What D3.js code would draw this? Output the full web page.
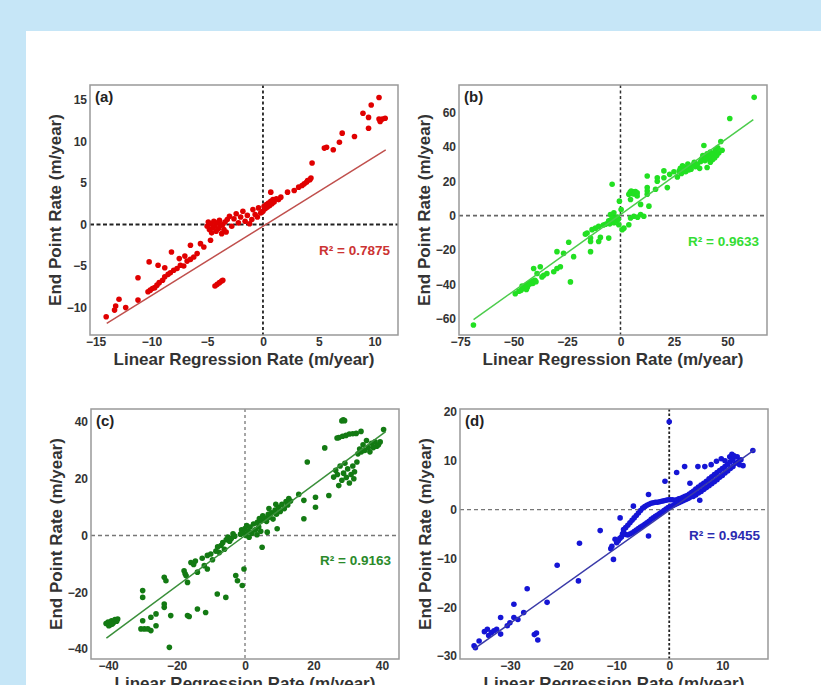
<!DOCTYPE html>
<html>
<head>
<meta charset="utf-8">
<script src="https://cdn.jsdelivr.net/npm/d3@7"></script>
<style>
  html, body { margin: 0; padding: 0; background: #c6e6f7; }
  #chart { width: 821px; height: 685px; }
</style>
</head>
<body>
<div id="chart"></div>
<script>
(function (d3) {
	'use strict';

	// DATA
	const labels = ["(a)", "(b)", "(c)", "(d)"];
	const r2Labels = ["R² = 0.7875", "R² = 0.9633", "R² = 0.9163", "R² = 0.9455"];

	const xTicksA = [-15, -10, -5, 0, 5, 10];
	const yTicksA = [-10, -5, 0, 5, 10, 15];
	const xTicksB = [-75, -50, -25, 0, 25, 50];
	const yTicksB = [-60, -40, -20, 0, 20, 40, 60];
	const xTicksC = [-40, -20, 0, 20, 40];
	const yTicksC = [-40, -20, 0, 20, 40];
	const xTicksD = [-30, -20, -10, 0, 10];
	const yTicksD = [-30, -20, -10, 0, 10, 20];

	// fitted line: [slope, intercept], drawn over [xStart, xEnd]
	const fitA = [0.836, -0.2], fitRangeA = [-14.0, 11.0];
	const fitB = [0.8907, 0.59], fitRangeB = [-68.7, 62.1];
	const fitC = [0.892, 0.0], fitRangeC = [-40.5, 41.1];
	const fitD = [0.773, -0.15], fitRangeD = [-36.8, 16.1];

	const pointsA = [
		[-14.05,-11.1],[-13.3,-10.3],[-13.2,-9.8],[-12.9,-9.0],[-12.3,-10.0],[-11.2,-9.1],[-11.2,-6.4],[-10.3,-8.1],[-10.1,-7.9],[-10.2,-4.5],
		[-9.9,-7.7],[-9.7,-7.6],[-9.5,-7.3],[-9.3,-7.0],[-9.0,-6.7],[-8.8,-6.3],[-8.5,-6.0],[-8.3,-5.8],[-8.0,-5.5],[-7.7,-5.3],[-7.4,-4.9],
		[-7.1,-5.0],[-6.8,-4.4],[-6.5,-4.2],[-6.2,-3.9],[-5.9,-3.5],[-9.4,-4.9],[-8.8,-5.2],[-8.2,-3.3],[-7.5,-4.1],[-7.0,-3.8],[-6.5,-2.5],
		[-5.6,-2.3],[-5.3,-2.7],[-4.7,-1.9],
		[-4.3,-7.4],[-4.1,-7.2],[-3.9,-7.0],[-3.7,-6.8],[-3.6,-6.7],
		[-5.0,-0.2],[-4.9,0.3],[-4.8,-0.6],[-4.7,0.1],[-4.6,-1.0],[-4.5,-0.4],[-4.4,0.4],[-4.3,-0.2],[-4.2,-0.8],[-4.1,0.2],[-4.0,-0.5],
		[-3.9,0.5],[-3.8,-0.1],[-3.7,-1.1],[-3.6,0.0],[-3.5,-0.6],[-3.4,0.3],[-3.3,-0.9],[-3.2,0.6],
		[-3.0,1.0],[-2.8,-0.2],[-2.6,0.7],[-2.4,1.3],[-2.2,0.2],[-2.0,0.9],[-1.8,1.6],[-1.6,0.4],[-1.4,1.1],[-1.2,0.1],[-1.0,0.6],[-0.9,1.8],
		[-0.7,1.2],[-0.5,0.9],[-0.4,2.0],[-0.2,1.4],
		[0.0,1.6],[0.1,2.2],[0.2,1.9],[0.3,2.4],[0.4,2.1],[0.5,2.6],[0.6,2.3],[0.7,2.8],[0.8,2.5],[0.9,3.0],[1.0,2.7],[1.2,3.1],[1.4,3.0],
		[1.6,3.3],[0.7,3.9],
		[2.2,3.9],[2.8,4.1],[3.2,4.5],[3.5,4.7],[3.7,4.9],[3.9,5.1],[4.0,5.3],[4.2,5.4],[4.3,5.6],[4.4,7.4],
		[5.5,9.2],[5.7,9.3],[6.3,9.0],[6.85,9.9],[7.1,11.0],[8.2,10.6],[8.96,13.4],[9.46,12.9],[9.46,11.6],[9.7,14.4],[10.4,15.3],
		[10.4,12.7],[10.5,12.4],[10.7,12.7],[10.95,12.8]
	];

	const pointsB = [
		[-68.75,-63.7],[-49.2,-45.5],[-47.5,-44.0],[-46.5,-43.5],[-45.8,-42.5],[-45.0,-42.0],[-44.5,-41.0],[-44.0,-40.5],[-43.5,-41.5],
		[-43.0,-39.5],[-42.5,-40.0],[-42.0,-39.0],[-41.5,-38.5],[-41.0,-39.5],[-40.5,-38.0],[-40.0,-37.6],[-39.5,-38.5],[-44.0,-43.0],[-46.0,-41.0],
		[-39,-33.7],[-37.5,-29.8],[-40.6,-30.8],[-36.7,-35.7],[-35.9,-34.7],[-34.4,-33.7],[-31.2,-32.7],[-29.7,-30.8],[-28.1,-29.8],
		[-29.7,-21],[-26.6,-22],[-23.4,-38.6],[-21.9,-23.9],[-24.2,-15.5],
		[-16.4,-10.8],[-15.6,-10.2],[-14,-13.1],[-14,-15.1],[-14,-21],[-13.3,-8.2],[-11.7,-7.3],[-10.2,-6.3],[-10.2,-15.1],[-9.4,-12.7],[-5.5,-13.1],
		[-8.0,-5.5],[-7.0,-5.0],[-6.0,-4.5],[-5.5,-3.0],[-5.0,-4.8],[-4.7,0.6],[-4.5,-2.5],[-4.0,-3.8],[-3.5,-1.5],[-3.1,1.6],[-3.0,-4.2],
		[-2.5,-2.0],[-2.0,-3.0],[-1.5,-0.8],[-1.0,-2.2],[-0.8,-5.3],[-3.9,18.2],
		[-0.5,8.4],[0.3,3.5],[0.8,-8.2],[1.6,-7.3],[3.9,-5.3],[4.7,-1.4],[6.25,-0.4],[9.4,0.6],[10.9,-0.4],[8.0,-1.0],
		[3.9,12.4],[4.5,13.5],[5.0,14.3],[5.5,12.8],[6.0,13.8],[6.5,12.6],[7.0,14.0],[7.8,13.2],[4.7,9.4],[7.8,11.4],[9.4,6.5],[13.3,5.5],
		[12.5,12.4],[12.5,14.3],[12.5,16.3],[16.4,15.3],[12.5,23],[17.2,20],[17.2,22],[20.3,22],[21.9,16.3],[20.3,26],
		[23.0,24.0],[25.0,25.5],[26.6,22.5],[27.5,26.0],[28.0,27.5],[28.5,24.5],[29.0,29.0],[29.5,26.5],[30.0,28.0],[30.5,25.5],[31.0,27.0],
		[31.5,30.0],[32.0,26.5],[32.5,28.5],[33.0,27.0],[34.0,29.5],[34.5,31.0],[35.0,28.5],[36.0,30.0],[37.0,27.5],[37.5,31.5],
		[38.0,33.0],[38.5,35.0],[39.0,40.8],[39.5,32.0],[40.0,34.0],[40.5,28.0],[40.5,36.0],[41.0,33.0],[41.5,35.5],[42.0,31.0],[42.0,37.0],
		[42.5,34.0],[43.0,32.5],[43.5,36.0],[44.0,33.5],[44.5,38.0],[45.0,35.0],[45.5,39.5],[46.0,36.5],[46.9,43.1],[47.5,38.0],
		[51.1,56.5],[62.5,68.8]
	];

	const pointsC = [
		[-40.6,-31.0],[-40.0,-30.5],[-39.5,-31.5],[-39.0,-30.0],[-38.5,-30.8],[-38.0,-29.6],[-37.5,-30.2],[-37.2,-29.4],[-39.8,-31.8],[-38.8,-31.2],
		[-30.4,-32.9],[-29.9,-30.0],[-29.4,-32.9],[-28.4,-32.9],[-27.5,-33.5],[-29.9,-19.4],[-29.9,-21.8],[-27.5,-28.8],[-26.0,-27.6],
		[-26.0,-31.8],[-23.6,-24.1],[-23.6,-25.3],[-23.6,-14.7],[-23.1,-15.9],[-22.1,-39.4],[-21.7,-28.2],
		[-17.8,-12.4],[-17.5,-13.5],[-17.2,-14.2],[-16.8,-16.5],[-16.8,-28.2],[-16.3,-28.5],[-15.8,-9.5],[-15.0,-10.2],[-14.5,-9.0],
		[-13.9,-12.9],[-13.9,-25.9],[-11.9,-10.6],[-11.5,-27.1],[-11.0,-11.8],[-12.5,-8.0],[-11.0,-7.0],[-10.0,-6.5],[-9.5,-8.5],[-8.5,-5.5],
		[-8.0,-4.0],[-7.5,-6.0],[-7.0,-3.5],[-6.5,-2.5],[-6.0,-4.8],[-5.5,-1.5],[-5.0,-0.5],[-4.5,-2.0],[-4.0,-1.0],[-3.5,0.6],[-3.0,-0.2],
		[-8.1,-20.6],[-5.6,-21.8],[-2.7,-14.1],[-2.2,-15.9],[-0.8,-17.6],[-0.3,-11.8],
		[-1.3,0.5],[-1.0,2.0],[-0.5,1.0],[0.0,2.5],[0.3,0.0],[0.5,3.5],[1.0,1.5],[1.2,-0.6],[1.5,3.0],[2.0,0.8],[2.5,4.1],[3.0,2.0],
		[3.5,0.3],[4.0,3.0],[4.6,1.5],[5.0,-4.1],[6.5,1.2],[9.4,2.4],
		[3.6,4.7],[4.2,6.0],[4.8,5.2],[5.2,7.0],[5.8,6.2],[6.3,5.0],[6.8,7.5],[7.2,6.5],[7.8,8.0],[8.2,5.8],[8.8,9.0],[9.2,7.5],[9.8,10.0],
		[10.3,8.5],[10.8,11.0],[11.5,9.5],[12.0,12.0],[12.5,10.8],[12.8,13.0],[13.3,12.2],[7.0,9.5],[9.0,11.0],
		[15.7,14.5],[17.2,12.4],[17.2,5.9],[18.2,25.9],[20.6,13.5],[20.6,10.0],[24.5,14.1],[23.3,30.9],
		[25.9,20.6],[26.5,23.0],[27.0,21.5],[27.4,17.6],[27.8,24.5],[28.3,19.5],[28.8,22.0],[29.2,25.5],[29.6,20.5],[30.0,23.5],[30.5,18.5],
		[31.0,21.5],[31.5,24.5],[32.0,22.5],[32.7,25.9],[31.8,20.0],
		[33.0,28.8],[33.5,30.5],[34.0,29.5],[34.5,32.0],[35.0,30.0],[35.5,33.5],[36.0,31.0],[36.5,29.5],[37.0,32.5],[37.5,31.0],[38.0,33.0],
		[38.5,31.5],[39.0,32.0],[39.5,33.0],
		[26.9,34.4],[27.4,34.5],[28.5,35.0],[29.5,35.3],[30.5,35.8],[31.5,35.9],[32.5,36.0],[33.9,36.7],
		[28.3,40.4],[28.7,40.8],[29.1,40.5],[40.5,37.4]
	];

	const pointsD = [
		[-36.75,-27.9],[-36.5,-28.3],[-35.8,-26.9],[-34.8,-25.0],[-34.25,-24.5],[-34.0,-25.8],[-33.5,-25.2],[-33.0,-24.8],[-32.5,-24.5],
		[-31.75,-25.5],[-31.75,-22.1],[-30.5,-23.8],[-30.0,-23.2],[-29.25,-22.1],[-29.25,-19.4],[-28.5,-22.5],[-27.4,-21.1],[-26.75,-16.2],
		[-25.4,-25.6],[-25.0,-25.3],[-24.75,-26.7],[-23.0,-19.0],[-21.1,-11.4],[-17.1,-14.6],[-16.9,-6.9],[-13.0,-4.3],[-10.5,-10.2],
		[-9.25,-1.7],[-6.75,0.7],[-3.9,3.1],[-3.9,-5.4],[-0.8,5.8],[0,18],[-11,-8],[-10.8,-7.5],
		[-10.2,-6.1],[-9.9,-6.8],[-9.6,-6.4],[-9.3,-5.9],[-9.0,-5.6],[-8.8,-5.0],[-8.6,-4.6],
		[-8.6,-4.1],[-8.2,-3.7],[-7.8,-3.2],[-7.4,-2.7],[-7.0,-2.2],[-6.6,-1.7],[-6.2,-1.2],[-5.8,-0.7],[-5.4,-0.2],[-5.0,0.3],[-4.6,0.6],
		[-4.2,0.9],[-3.8,1.1],[-3.4,1.3],[-3.0,1.4],[-2.6,1.5],[-2.2,1.5],[-1.8,1.6],[-1.4,1.7],[-1.0,1.8],[-0.6,1.9],[-0.2,2.0],[0.2,2.0],
		[0.6,2.0],[1.0,1.9],[1.4,2.0],[1.8,2.2],[2.2,2.3],[2.6,2.5],[3.0,2.7],[3.4,2.9],[3.8,3.2],[4.2,3.5],
		[-8.2,-5.1],[-7.8,-5.2],[-7.4,-5.0],[-7.0,-4.8],[-6.6,-4.5],[-6.2,-4.2],[-5.8,-3.9],[-5.4,-3.6],[-5.0,-3.3],[-4.6,-3.0],[-4.2,-2.7],
		[-3.8,-2.4],[-3.4,-2.0],[-3.0,-1.7],[-2.6,-1.4],[-2.2,-1.1],[-1.8,-0.8],[-1.4,-0.5],[-1.0,-0.2],[-0.6,0.1],[-0.2,0.4],[0.2,0.6],
		[0.6,0.8],[1.0,1.0],[1.4,1.2],[1.8,1.4],[2.2,1.6],[2.6,1.8],[3.0,2.0],[3.4,2.2],[3.8,2.4],
		[4.5,2.7],[4.6,3.8],[5.0,3.0],[5.0,4.2],[5.5,3.4],[5.5,4.6],[5.75,1.9],[6.0,3.7],[6.0,5.0],[6.5,4.1],[6.5,5.4],[7.0,4.5],[7.0,5.8],
		[7.5,4.9],[7.5,6.3],[8.0,5.3],[8.0,6.7],[8.5,5.7],[8.5,7.2],[9.0,6.1],[9.0,7.6],[9.5,6.6],[9.5,8.0],[10.0,7.0],[10.0,8.4],[10.5,7.5],
		[10.5,8.8],[11.0,7.9],[11.0,9.3],[11.5,8.4],[11.5,9.8],[12.0,8.8],[12.0,10.3],[12.5,9.5],[12.8,10.8],[13.0,9.8],[13.25,9.2],
		[11.4,10.8],[11.8,11.3],[12.2,11.0],[13.5,10.2],[13.9,9.0],
		[15.75,12.1],[9.8,10.4],[8.9,9.9],[7.9,9.2],[6.7,8.8],[5.4,8.8],[2.9,8.8],[1.4,7.6],[3.9,5.4],[10.5,10.0]
	];

	// panel layout and styling
	const panelW = 308, panelH = 250;
	const panels = [
		{ left: 90, top: 85, xDom: [-15.5, 12.1], yDom: [-13.3, 16.8], xTicks: xTicksA, yTicks: yTicksA,
		  pts: pointsA, fit: fitA, fitRange: fitRangeA, ptColor: "#e00000", lineColor: "#c0504d", textColor: "#cc3333",
		  r2y: 255, hZero: { c: "#222", w: 2, dash: "4,2.5" }, vZero: { c: "#222", w: 1.8, dash: "3,2.5" } },
		{ left: 459, top: 85, xDom: [-75.5, 68.5], yDom: [-69.5, 76], xTicks: xTicksB, yTicks: yTicksB,
		  pts: pointsB, fit: fitB, fitRange: fitRangeB, ptColor: "#22e022", lineColor: "#4ccc4c", textColor: "#33dd33",
		  r2y: 246, hZero: { c: "#666", w: 1.6, dash: "4,3" }, vZero: { c: "#333", w: 1.5, dash: "3,2.5" } },
		{ left: 91, top: 409, xDom: [-45, 45], yDom: [-43.5, 44.6], xTicks: xTicksC, yTicks: yTicksC,
		  pts: pointsC, fit: fitC, fitRange: fitRangeC, ptColor: "#137a13", lineColor: "#3a8f3a", textColor: "#2a8a2a",
		  r2y: 565, hZero: { c: "#777", w: 1.4, dash: "4,3" }, vZero: { c: "#777", w: 1.3, dash: "3,3" } },
		{ left: 460, top: 409, xDom: [-39.4, 18.6], yDom: [-30.6, 20.6], xTicks: xTicksD, yTicks: yTicksD,
		  pts: pointsD, fit: fitD, fitRange: fitRangeD, ptColor: "#1515d5", lineColor: "#3a3aa8", textColor: "#2b2bb0",
		  r2y: 540, hZero: { c: "#777", w: 1.4, dash: "4,3" }, vZero: { c: "#222", w: 1.8, dash: "2.5,2" } }
	];

	const svg = d3.select("#chart").append("svg")
		.attr("width", 821).attr("height", 685)
		.style("font-family", "'Liberation Sans', Arial, sans-serif");

	// white card over the blue page
	svg.append("rect").attr("x", 26).attr("y", 31).attr("width", 821 - 26).attr("height", 685 - 31).attr("fill", "#fff");

	const fmt = d3.format("d");

	panels.forEach((p, i) => {
		const g = svg.append("g").attr("transform", `translate(${p.left},${p.top})`);
		const x = d3.scaleLinear().domain(p.xDom).range([0, panelW]);
		const y = d3.scaleLinear().domain(p.yDom).range([panelH, 0]);

		// X axis
		const xAxisG = g.append("g").attr("transform", `translate(0,${panelH})`)
			.call(d3.axisBottom(x).tickValues(p.xTicks).tickFormat(fmt).tickSize(0).tickPadding(2));
		xAxisG.selectAll(".domain").remove();
		xAxisG.selectAll("text").attr("fill", "#333").style("font-size", "12px").style("font-weight", "bold");

		// Y axis
		const yAxisG = g.append("g")
			.call(d3.axisLeft(y).tickValues(p.yTicks).tickFormat(fmt).tickSize(0).tickPadding(3));
		yAxisG.selectAll(".domain").remove();
		yAxisG.selectAll("text").attr("fill", "#333").style("font-size", "12px").style("font-weight", "bold");

		const clipId = "clip" + i;
		g.append("clipPath").attr("id", clipId).append("rect").attr("width", panelW).attr("height", panelH);
		const plot = g.append("g").attr("clip-path", `url(#${clipId})`);

		// zero lines
		plot.append("line").attr("x1", 0).attr("x2", panelW).attr("y1", y(0)).attr("y2", y(0))
			.attr("stroke", p.hZero.c).attr("stroke-width", p.hZero.w).attr("stroke-dasharray", p.hZero.dash);
		plot.append("line").attr("y1", 0).attr("y2", panelH).attr("x1", x(0)).attr("x2", x(0))
			.attr("stroke", p.vZero.c).attr("stroke-width", p.vZero.w).attr("stroke-dasharray", p.vZero.dash);

		// points
		plot.selectAll("circle").data(p.pts).enter().append("circle")
			.attr("cx", d => x(d[0]))
			.attr("cy", d => y(d[1]))
			.attr("r", 2.8)
			.attr("fill", p.ptColor);

		// regression line
		plot.append("line")
			.attr("x1", x(p.fitRange[0])).attr("y1", y(p.fit[0] * p.fitRange[0] + p.fit[1]))
			.attr("x2", x(p.fitRange[1])).attr("y2", y(p.fit[0] * p.fitRange[1] + p.fit[1]))
			.attr("stroke", p.lineColor).attr("stroke-width", 1.5);

		// frame
		g.append("rect").attr("width", panelW).attr("height", panelH)
			.attr("fill", "none").attr("stroke", "#999").attr("stroke-width", 1.5);

		// panel letter
		g.append("text").attr("x", 5).attr("y", 17).text(labels[i])
			.attr("fill", "#222").style("font-size", "15px").style("font-weight", "bold");

		// R² label
		g.append("text").attr("x", panelW - 8).attr("y", p.r2y - p.top).attr("text-anchor", "end")
			.text(r2Labels[i]).attr("fill", p.textColor).style("font-size", "13.5px").style("font-weight", "bold");

		// axis titles
		g.append("text").attr("x", panelW / 2).attr("y", panelH + 30).attr("text-anchor", "middle")
			.text("Linear Regression Rate (m/year)")
			.attr("fill", "#333").style("font-size", "17px").style("font-weight", "bold");
		g.append("text").attr("transform", `translate(-29,${panelH / 2}) rotate(-90)`).attr("text-anchor", "middle")
			.text("End Point Rate (m/year)")
			.attr("fill", "#333").style("font-size", "17px").style("font-weight", "bold");
	});
}(d3));
</script>
</body>
</html>
